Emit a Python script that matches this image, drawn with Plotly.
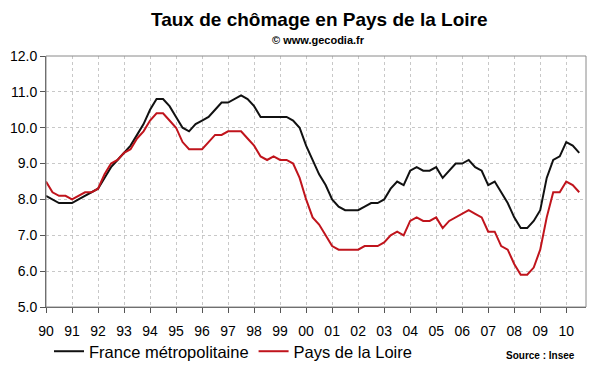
import plotly.graph_objects as go

# Quarterly unemployment rate (%), 1990 Q1 .. 2010 Q3
start_year = 1990
france = [
    8.1, 8.0, 7.9, 7.9,
    7.9, 8.0, 8.1, 8.2,
    8.3, 8.6, 8.9, 9.1,
    9.3, 9.5, 9.8, 10.1,
    10.5, 10.8, 10.8, 10.6,
    10.3, 10.0, 9.9, 10.1,
    10.2, 10.3, 10.5, 10.7,
    10.7, 10.8, 10.9, 10.8,
    10.6, 10.3, 10.3, 10.3,
    10.3, 10.3, 10.2, 10.0,
    9.5, 9.1, 8.7, 8.4,
    8.0, 7.8, 7.7, 7.7,
    7.7, 7.8, 7.9, 7.9,
    8.0, 8.3, 8.5, 8.4,
    8.8, 8.9, 8.8, 8.8,
    8.9, 8.6, 8.8, 9.0,
    9.0, 9.1, 8.9, 8.8,
    8.4, 8.5, 8.2, 7.9,
    7.5, 7.2, 7.2, 7.4,
    7.7, 8.6, 9.1, 9.2,
    9.6, 9.5, 9.3,
]
pays_loire = [
    8.5, 8.2, 8.1, 8.1,
    8.0, 8.1, 8.2, 8.2,
    8.3, 8.7, 9.0, 9.1,
    9.3, 9.4, 9.7, 9.9,
    10.2, 10.4, 10.4, 10.2,
    10.0, 9.6, 9.4, 9.4,
    9.4, 9.6, 9.8, 9.8,
    9.9, 9.9, 9.9, 9.7,
    9.5, 9.2, 9.1, 9.2,
    9.1, 9.1, 9.0, 8.6,
    8.0, 7.5, 7.3, 7.0,
    6.7, 6.6, 6.6, 6.6,
    6.6, 6.7, 6.7, 6.7,
    6.8, 7.0, 7.1, 7.0,
    7.4, 7.5, 7.4, 7.4,
    7.5, 7.2, 7.4, 7.5,
    7.6, 7.7, 7.6, 7.5,
    7.1, 7.1, 6.7, 6.6,
    6.2, 5.9, 5.9, 6.1,
    6.6, 7.5, 8.2, 8.2,
    8.5, 8.4, 8.2,
]
years = list(range(1990, 2011))
year_labels = ["90", "91", "92", "93", "94", "95", "96", "97", "98", "99",
               "00", "01", "02", "03", "04", "05", "06", "07", "08", "09", "10"]

quarters = [start_year + i / 4 for i in range(len(france))]

FONT = "Liberation Sans"

L, R, T, B = 46, 14, 56, 65
W, H = 600, 372
pw, ph = W - L - R, H - T - B


def px_to_paper(x, y):
    return (x - L) / pw, (H - B - y) / ph


fig = go.Figure()
fig.add_trace(go.Scatter(x=quarters, y=france, mode="lines",
                         name="France métropolitaine",
                         line=dict(color="#111111", width=2)))
fig.add_trace(go.Scatter(x=quarters, y=pays_loire, mode="lines",
                         name="Pays de la Loire",
                         line=dict(color="#c0141c", width=2)))

annots = []
for text, (x, y), size in [
    ("<b>Taux de chômage en Pays de la Loire</b>", (319, 20), 19),
    ("<b>© www.gecodia.fr</b>", (318, 40), 11),
    ("<b>Source : Insee</b>", (540, 355), 10),
]:
    px_, py_ = px_to_paper(x, y)
    annots.append(dict(text=text, x=px_, y=py_, xref="paper", yref="paper",
                       xanchor="center", yanchor="middle", showarrow=False,
                       font=dict(size=size, family=FONT, color="#000000")))

lx, ly = px_to_paper(49, 334)

fig.update_layout(
    width=W, height=H,
    margin=dict(l=L, r=R, t=T, b=B, autoexpand=False),
    paper_bgcolor="white", plot_bgcolor="white",
    font=dict(family=FONT, color="#000000", size=14),
    showlegend=True,
    legend=dict(orientation="h", x=lx, xanchor="left", y=ly, yanchor="top",
                font=dict(size=16.5, family=FONT), itemwidth=30,
                bgcolor="rgba(0,0,0,0)"),
    annotations=annots,
)

fig.update_xaxes(
    range=[1990, 2010.76], tickvals=years, ticktext=year_labels,
    showgrid=True, gridcolor="#c8c8c8", griddash="dot", gridwidth=1,
    showline=True, linecolor="#555555", linewidth=1,
    ticks="outside", ticklen=5, tickcolor="#555555", ticklabelstandoff=6,
    tickfont=dict(size=14, family=FONT), zeroline=False, automargin=False,
)
fig.update_yaxes(
    range=[5, 12], dtick=1, tickformat=".1f",
    showgrid=True, gridcolor="#c8c8c8", griddash="dot", gridwidth=1,
    showline=True, linecolor="#555555", linewidth=1,
    ticks="outside", ticklen=5, tickcolor="#555555",
    tickfont=dict(size=14, family=FONT), zeroline=False, automargin=False,
)

fig.add_shape(type="rect", xref="paper", yref="paper", x0=0, y0=0, x1=1, y1=1,
              line=dict(color="#8a8a8a", width=1), layer="above")

fig.write_html("out.html",
               config={"displayModeBar": False},
               post_script="document.body.style.margin='0';"
                           "document.body.style.overflow='hidden';")
